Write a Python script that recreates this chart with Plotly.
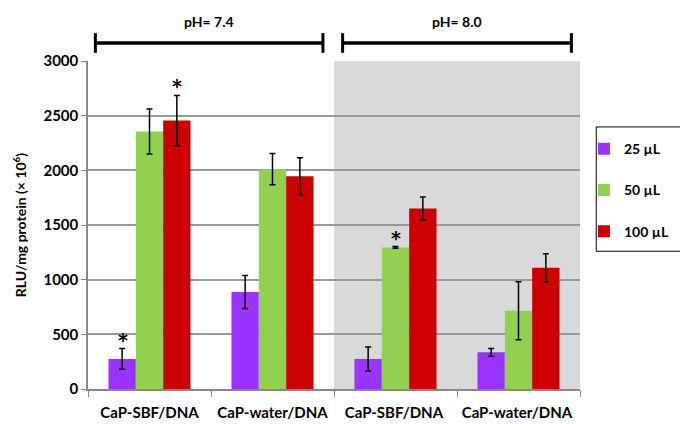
import plotly.graph_objects as go

categories = ["CaP-SBF/DNA", "CaP-water/DNA", "CaP-SBF/DNA ", "CaP-water/DNA "]
series_names = ["25 µL", "50 µL", "100 µL"]
vals_25 = [275, 887, 275, 335]
err_25 = [95, 150, 110, 35]
vals_50 = [2355, 2010, 1295, 715]
err_50 = [205, 143, 8, 265]
vals_100 = [2455, 1945, 1650, 1110]
err_100 = [230, 170, 105, 128]
colors = ["#9933ff", "#92d050", "#cc0000"]
yticks = [0, 500, 1000, 1500, 2000, 2500, 3000]
ph_labels = ["pH= 7.4", "pH= 8.0"]
# asterisk marks: (category index, series index)
stars = [(0, 0), (0, 2), (2, 1)]

FONT = "Lato"
fig = go.Figure()
all_vals = [vals_25, vals_50, vals_100]
all_errs = [err_25, err_50, err_100]
for i, name in enumerate(series_names):
    fig.add_trace(go.Bar(
        x=categories, y=all_vals[i], name=name, legendgroup=str(i),
        marker=dict(color=colors[i], line=dict(width=0)),
        error_y=dict(type="data", array=all_errs[i], color="black", thickness=1.5, width=3),
    ))

bar_px = 27
for ci, si in stars:
    fig.add_annotation(x=categories[ci], y=all_vals[si][ci] + all_errs[si][ci],
                       xshift=(si - 1) * bar_px, yshift=-4, yanchor="bottom",
                       text="<b>*</b>", showarrow=False,
                       font=dict(family="DejaVu Sans", size=19, color="black"))

# shaded pH 8.0 region
fig.add_shape(type="rect", xref="x", yref="y", x0=1.5, x1=3.5, y0=0, y1=3000,
              fillcolor="#d9d9d9", line=dict(width=0), layer="below")

# brackets
brackets = [(-0.44, 1.41), (1.57, 3.43)]
for (x0, x1), lab in zip(brackets, ph_labels):
    fig.add_shape(type="line", xref="x", yref="paper", x0=x0, x1=x1, y0=1.055, y1=1.055,
                  line=dict(color="black", width=3.5))
    for xx in (x0, x1):
        fig.add_shape(type="line", xref="x", yref="paper", x0=xx, x1=xx, y0=1.025, y1=1.085,
                      line=dict(color="black", width=3))
    fig.add_annotation(x=(x0 + x1) / 2, xref="x", y=1.12, yref="paper", text="<b>" + lab + "</b>",
                       showarrow=False, yanchor="middle",
                       font=dict(family=FONT, size=14, color="black"))

# legend frame
fig.add_shape(type="rect", xref="paper", yref="paper", x0=1.033, x1=1.25, y0=0.42, y1=0.799,
              line=dict(color="black", width=1), fillcolor="white", layer="below")

fig.update_layout(
    width=680, height=424,
    margin=dict(l=88, r=100, t=61, b=35, autoexpand=False),
    paper_bgcolor="white", plot_bgcolor="white",
    barmode="group", bargap=0.333, bargroupgap=0,
    font=dict(family=FONT, color="black"),
    legend=dict(x=1.008, y=0.78, xanchor="left", yanchor="top", bgcolor="rgba(0,0,0,0)",
                tracegroupgap=20, itemwidth=30,
                font=dict(family=FONT, size=14, color="black", weight="bold")),
    xaxis=dict(showgrid=False, showline=True, linecolor="#888888", linewidth=1.5,
               ticks="outside", tickson="boundaries", ticklen=6, tickcolor="#888888",
               ticklabelstandoff=9,
               tickfont=dict(family=FONT, size=15, weight="bold", color="black"),
               range=[-0.5, 3.5]),
    yaxis=dict(range=[0, 3000], tickvals=yticks, showgrid=True, gridcolor="#999999", gridwidth=1.5,
               showline=True, linecolor="#888888", linewidth=1.5, ticks="outside", ticklen=5,
               tickcolor="#888888", zeroline=False,
               tickfont=dict(family=FONT, size=15, weight="bold", color="black"),
               title=dict(text="RLU/mg protein (× 10<sup>6</sup>)", standoff=14,
                          font=dict(family=FONT, size=14, weight="bold", color="black"))),
)

fig.write_html("out.html")
